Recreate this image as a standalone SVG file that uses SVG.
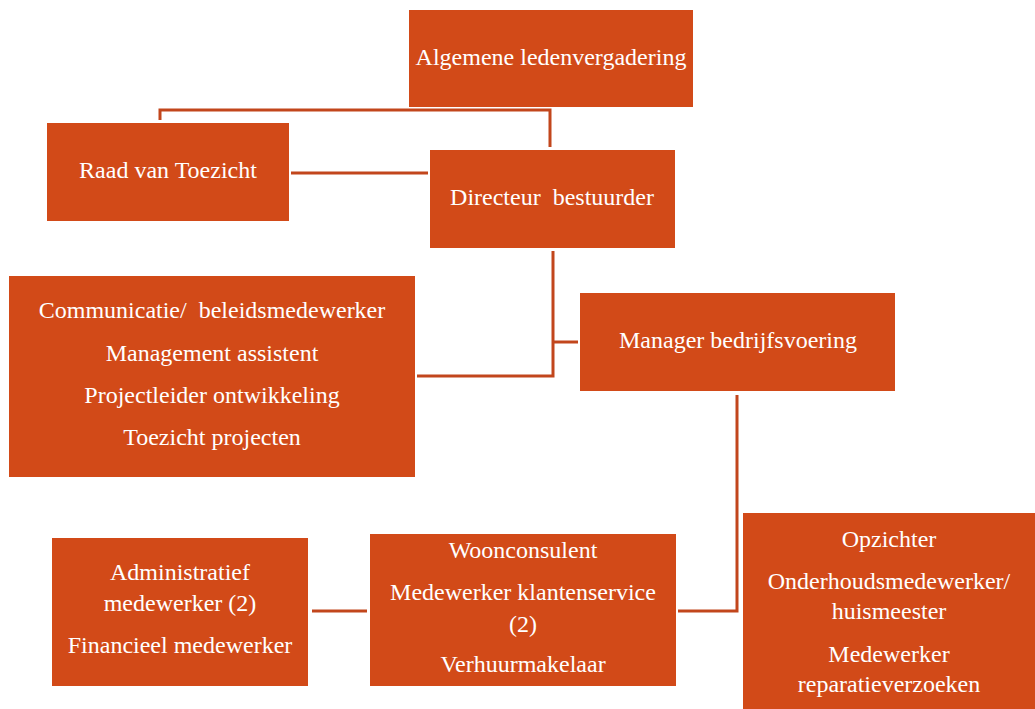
<svg xmlns="http://www.w3.org/2000/svg" width="1035" height="709" viewBox="0 0 1035 709">
<style>
.box{fill:#D24A18}
.t{font-family:"Liberation Serif","DejaVu Serif","Times New Roman",serif;font-size:24px;fill:#fff;text-anchor:middle;white-space:pre}
.c{stroke:#C2461C;stroke-width:3;fill:none}
</style>
<rect width="1035" height="709" fill="#fff"/>
<g id="connectors">
<polyline class="c" points="160,120 160,110 550,110 550,147"/>
<line class="c" x1="291" y1="173" x2="428" y2="173"/>
<polyline class="c" points="553,251 553,376 417,376"/>
<line class="c" x1="553" y1="342" x2="578" y2="342"/>
<polyline class="c" points="737,395 737,611 678,611"/>
<line class="c" x1="312" y1="611" x2="367" y2="611"/>
</g>
<g id="alv"><rect class="box" x="409" y="10" width="284" height="97"/><text class="t" x="551" y="65">Algemene ledenvergadering</text></g>
<g id="rvt"><rect class="box" x="47" y="123" width="242" height="98"/><text class="t" x="168" y="178">Raad van Toezicht</text></g>
<g id="dir"><rect class="box" x="430" y="150" width="245" height="98"/><text class="t" x="552" y="205">Directeur  bestuurder</text></g>
<g id="staf"><rect class="box" x="9" y="276" width="406" height="201"/>
<text class="t" x="212" y="318">Communicatie/  beleidsmedewerker</text>
<text class="t" x="212" y="361">Management assistent</text>
<text class="t" x="212" y="403">Projectleider ontwikkeling</text>
<text class="t" x="212" y="445">Toezicht projecten</text></g>
<g id="mgr"><rect class="box" x="580" y="293" width="315" height="98"/><text class="t" x="738" y="348">Manager bedrijfsvoering</text></g>
<g id="adm"><rect class="box" x="52" y="538" width="256" height="148"/>
<text class="t" x="180" y="580">Administratief</text>
<text class="t" x="180" y="611">medewerker (2)</text>
<text class="t" x="180" y="653">Financieel medewerker</text></g>
<g id="woon"><rect class="box" x="370" y="534" width="306" height="152"/>
<text class="t" x="523" y="558">Woonconsulent</text>
<text class="t" x="523" y="600">Medewerker klantenservice</text>
<text class="t" x="523" y="632">(2)</text>
<text class="t" x="523" y="672">Verhuurmakelaar</text></g>
<g id="opz"><rect class="box" x="743" y="513" width="292" height="196"/>
<text class="t" x="889" y="547">Opzichter</text>
<text class="t" x="889" y="589">Onderhoudsmedewerker/</text>
<text class="t" x="889" y="619">huismeester</text>
<text class="t" x="889" y="662">Medewerker</text>
<text class="t" x="889" y="692">reparatieverzoeken</text></g>
</svg>
